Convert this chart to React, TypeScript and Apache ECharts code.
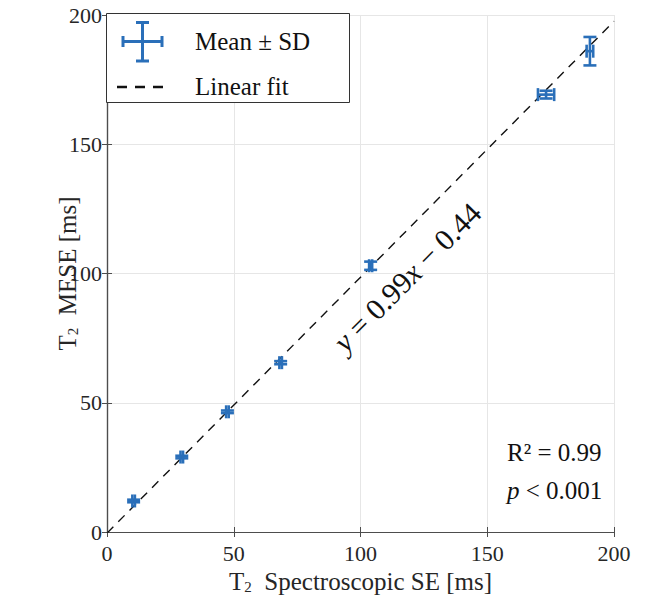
import React, { useEffect, useRef } from "react";
import * as echarts from "echarts";

// Measured means and standard deviations (ms)
const meanX = [10.5, 29.5, 47.5, 68.5, 104, 173.2, 190.5];
const meanY = [12, 29, 46.5, 65.5, 103, 169.2, 186];
const sdX = [0.5, 0.5, 0.5, 0.5, 0.6, 3.2, 1.3];
const sdY = [0.5, 0.5, 0.5, 0.6, 1.6, 1.5, 5.5];
// Linear fit y = 0.99x - 0.44 evaluated at the ends of the axis
const fitX = [0, 200];
const fitY = [-0.44, 197.56];
const tickValues = [0, 50, 100, 150, 200];

const BLUE = "#2a6fb9";
const FONT = "'Liberation Serif', serif";

export default function App() {
  const ref = useRef<HTMLDivElement>(null);
  useEffect(() => {
    document.body.style.margin = "0";
    const chart = echarts.init(ref.current!, null, { renderer: "svg" });
    const ebData = meanX.map((x, i) => [x, meanY[i], sdX[i], sdY[i]]);
    const fitData = fitX.map((x, i) => [x, fitY[i]]);
    const axMin = tickValues[0];
    const axMax = tickValues[tickValues.length - 1];
    const interval = tickValues[1] - tickValues[0];
    const axisLine = { show: true, lineStyle: { color: "#4d4d4d", width: 1.2 } };
    const axisTick = { show: true, inside: true, length: 5, lineStyle: { color: "#4d4d4d" } };
    const labelStyle = { fontFamily: FONT, fontSize: 22, color: "#262626" };
    const nameStyle = {
      fontFamily: FONT,
      fontSize: 25,
      color: "#262626",
      rich: {
        sub: { fontFamily: FONT, fontSize: 15, color: "#262626", padding: [10, 0, 0, 0] },
      },
    };

    const renderItem = (params: any, api: any) => {
      const x = api.value(0);
      const y = api.value(1);
      const ex = api.value(2);
      const ey = api.value(3);
      const c = api.coord([x, y]);
      const l = api.coord([x - ex, y]);
      const r = api.coord([x + ex, y]);
      const t = api.coord([x, y + ey]);
      const b = api.coord([x, y - ey]);
      const h = 6.5;
      const style = { stroke: BLUE, lineWidth: 2.6, fill: null };
      const line = (x1: number, y1: number, x2: number, y2: number) => ({
        type: "line",
        shape: { x1, y1, x2, y2 },
        style,
      });
      return {
        type: "group",
        children: [
          line(c[0], t[1], c[0], b[1]),
          line(c[0] - h, t[1], c[0] + h, t[1]),
          line(c[0] - h, b[1], c[0] + h, b[1]),
          line(l[0], c[1], r[0], c[1]),
          line(l[0], c[1] - h, l[0], c[1] + h),
          line(r[0], c[1] - h, r[0], c[1] + h),
        ],
      };
    };

    const rot = (45.27 * Math.PI) / 180;
    const icon = (x1: number, y1: number, x2: number, y2: number) => ({
      type: "line",
      z: 11,
      shape: { x1, y1, x2, y2 },
      style: { stroke: BLUE, lineWidth: 3 },
    });

    chart.setOption({
      animation: false,
      backgroundColor: "#ffffff",
      textStyle: { fontFamily: FONT },
      grid: { left: 107, right: 31, top: 15, bottom: 72 },
      xAxis: [
        {
          type: "value",
          min: axMin,
          max: axMax,
          interval,
          position: "bottom",
          name: "T{sub|2}  Spectroscopic SE [ms]",
          nameLocation: "middle",
          nameGap: 37,
          nameMoveOverlap: false,
          nameTextStyle: nameStyle,
          axisLine,
          axisTick,
          axisLabel: { ...labelStyle, margin: 10 },
          splitLine: { show: true, lineStyle: { color: "#e6e6e6", width: 1 } },
        },
        {
          type: "value",
          min: axMin,
          max: axMax,
          interval,
          position: "top",
          axisLine,
          axisTick,
          axisLabel: { show: false },
          splitLine: { show: false },
        },
      ],
      yAxis: [
        {
          type: "value",
          min: axMin,
          max: axMax,
          interval,
          position: "left",
          name: "T{sub|2}  MESE [ms]",
          nameLocation: "middle",
          nameRotate: 90,
          nameGap: 27,
          nameMoveOverlap: false,
          nameTextStyle: nameStyle,
          axisLine,
          axisTick,
          axisLabel: { ...labelStyle, margin: 5 },
          splitLine: { show: true, lineStyle: { color: "#e6e6e6", width: 1 } },
        },
        {
          type: "value",
          min: axMin,
          max: axMax,
          interval,
          position: "right",
          axisLine,
          axisTick,
          axisLabel: { show: false },
          splitLine: { show: false },
        },
      ],
      series: [
        {
          name: "Linear fit",
          type: "line",
          data: fitData,
          showSymbol: false,
          lineStyle: { color: "#111", width: 1.4, type: [9, 7] },
          z: 2,
        },
        {
          name: "Mean ± SD",
          type: "custom",
          data: ebData,
          renderItem,
          encode: { x: 0, y: 1 },
          z: 3,
        },
      ],
      graphic: [
        {
          type: "rect",
          z: 10,
          shape: { x: 106.5, y: 13.5, width: 243, height: 89 },
          style: { fill: "#ffffff", stroke: "#333", lineWidth: 1 },
        },
        icon(123, 41.5, 162, 41.5),
        icon(142.5, 22.5, 142.5, 61),
        icon(123, 36, 123, 47),
        icon(162, 36, 162, 47),
        icon(136, 22.5, 149, 22.5),
        icon(136, 61, 149, 61),
        {
          type: "line",
          z: 11,
          shape: { x1: 117, y1: 87, x2: 164, y2: 87 },
          style: { stroke: "#111", lineWidth: 2.6, lineDash: [10, 8] },
        },
        {
          type: "text",
          x: 195,
          y: 41,
          z: 11,
          style: { text: "Mean ± SD", fontFamily: FONT, fontSize: 25, fill: "#111", verticalAlign: "middle" },
        },
        {
          type: "text",
          x: 195,
          y: 86,
          z: 11,
          style: { text: "Linear fit", fontFamily: FONT, fontSize: 25, fill: "#111", verticalAlign: "middle" },
        },
        {
          type: "text",
          x: 407,
          y: 277,
          rotation: rot,
          z: 11,
          style: {
            text: "{i|y}{n| = 0.99}{i|x}{n| − 0.44}",
            fontFamily: FONT,
            fontSize: 30,
            fill: "#111",
            align: "center",
            verticalAlign: "middle",
            rich: {
              i: { fontFamily: FONT, fontSize: 30, fontStyle: "italic", fill: "#111" },
              n: { fontFamily: FONT, fontSize: 30, fill: "#111" },
            },
          },
        },
        {
          type: "text",
          x: 507,
          y: 452,
          z: 11,
          style: { text: "R² = 0.99", fontFamily: FONT, fontSize: 25, fill: "#111", verticalAlign: "middle" },
        },
        {
          type: "text",
          x: 507,
          y: 490,
          z: 11,
          style: {
            text: "{i|p} < 0.001",
            fontFamily: FONT,
            fontSize: 25,
            fill: "#111",
            verticalAlign: "middle",
            rich: { i: { fontFamily: FONT, fontSize: 25, fontStyle: "italic", fill: "#111" } },
          },
        },
      ],
    });
    return () => chart.dispose();
  }, []);
  return <div ref={ref} style={{ width: 645, height: 604 }} />;
}
